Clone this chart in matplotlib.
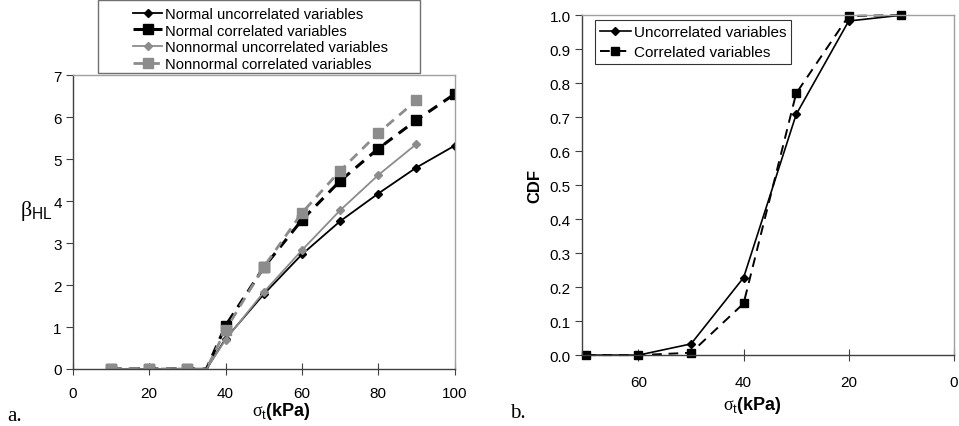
import matplotlib
matplotlib.use("Agg")
import matplotlib.pyplot as plt
from matplotlib.patches import Rectangle
from matplotlib.ticker import FormatStrFormatter

plt.rcParams["font.family"] = ["Liberation Sans", "DejaVu Sans"]
plt.rcParams["mathtext.fontset"] = "custom"
plt.rcParams["mathtext.rm"] = "Liberation Serif"
plt.rcParams["mathtext.sf"] = "Liberation Sans"
plt.rcParams["mathtext.bf"] = "Liberation Sans:bold"

# Panel a: reliability index vs tensile strength
sigma_a = [10, 20, 30, 35, 40, 50, 60, 70, 80, 90, 100]
normal_uncorr = [0, 0, 0, 0, 0.72, 1.78, 2.73, 3.52, 4.18, 4.80, 5.32]
normal_corr = [0, 0, 0, 0, 1.03, 2.42, 3.55, 4.48, 5.25, 5.93, 6.55]
sigma_a_nn = [10, 20, 30, 35, 40, 50, 60, 70, 80, 90]
nonnormal_uncorr = [0, 0, 0, 0, 0.70, 1.83, 2.83, 3.78, 4.62, 5.36]
nonnormal_corr = [0, 0, 0, 0, 0.93, 2.43, 3.72, 4.72, 5.62, 6.40]

# Panel b: CDF
sigma_b = [70, 60, 50, 40, 30, 20, 10]
cdf_uncorr = [0.0, 0.0, 0.033, 0.228, 0.708, 0.983, 1.0]
cdf_corr = [0.0, 0.0, 0.007, 0.152, 0.770, 0.998, 1.0]

gray = "#8c8c8c"
dark = "#404040"
W, H = 959, 427
sig_label = r"$\mathrm{\sigma}_{\mathsf{t}}$(kPa)"

fig = plt.figure(figsize=(9.59, 4.27), dpi=100)
ax1 = fig.add_axes([0.076, 0.1335, 0.398, 0.688])
ax2 = fig.add_axes([0.6066, 0.166, 0.388, 0.796])

# marker on every point except the 35 kPa break point
mk_a = [i for i, s in enumerate(sigma_a) if s != 35]
mk_nn = [i for i, s in enumerate(sigma_a_nn) if s != 35]

ax1.plot(sigma_a, normal_uncorr, color="black", lw=1.3, marker="D", ms=4,
         markevery=mk_a, label="Normal uncorrelated variables")
ax1.plot(sigma_a, normal_corr, color="black", lw=2.2, ls=(0, (3.5, 2.5)), marker="s", ms=6.5,
         markevery=mk_a, label="Normal correlated variables")
ax1.plot(sigma_a_nn, nonnormal_uncorr, color=gray, lw=1.3, marker="D", ms=4,
         markevery=mk_nn, label="Nonnormal uncorrelated variables")
ax1.plot(sigma_a_nn, nonnormal_corr, color=gray, lw=2.0, ls=(0, (3.5, 2.5)), marker="s", ms=6.5,
         markevery=mk_nn, label="Nonnormal correlated variables")

ax1.set_xlim(0, 100)
ax1.set_ylim(0, 7)
ax1.set_xticks(range(0, 101, 20))
ax1.set_yticks(range(0, 8))
ax1.tick_params(axis="x", direction="inout", length=8, pad=8, labelsize=11, color=dark)
ax1.tick_params(axis="y", direction="out", length=5, pad=3, labelsize=11, color=dark)
ax1.set_xlabel(sig_label, fontsize=13, fontweight="bold")
ax1.xaxis.set_label_coords(0.547, -0.105)
ax1.text(-0.052, 0.54, r"$\mathrm{\beta}_{\mathsf{HL}}$", transform=ax1.transAxes,
         fontsize=16, ha="right", va="center")
leg1 = ax1.legend(loc="upper left", bbox_to_anchor=(133 / W, 1 - 8 / H),
                  bbox_transform=fig.transFigure, fontsize=10.6, frameon=False,
                  borderpad=0, labelspacing=0.18, handlelength=2.0,
                  handletextpad=0.2, borderaxespad=0)
fig.add_artist(Rectangle((98 / W, 1 - 74 / H), 322 / W, 73 / H, transform=fig.transFigure,
                         fill=False, edgecolor="#707070", lw=1.0))

ax2.plot(sigma_b, cdf_uncorr, color="black", lw=1.2, marker="D", ms=4, clip_on=False,
         label="Uncorrelated variables")
ax2.plot(sigma_b, cdf_corr, color="black", lw=1.4, ls=(0, (5, 3.5)), marker="s", ms=5.5,
         clip_on=False, label="Correlated variables")
ax2.set_xlim(70.8, 0)
ax2.set_ylim(0, 1.0)
ax2.set_xticks([60, 40, 20, 0])
ax2.set_yticks([i / 10 for i in range(11)])
ax2.yaxis.set_major_formatter(FormatStrFormatter("%.1f"))
ax2.tick_params(axis="x", direction="inout", length=8, pad=10, labelsize=11, color=dark)
ax2.tick_params(axis="y", direction="out", length=5, pad=3, labelsize=11, color=dark)
ax2.set_xlabel(sig_label, fontsize=13, fontweight="bold")
ax2.xaxis.set_label_coords(0.46, -0.115)
ax2.set_ylabel("CDF", fontsize=12, fontweight="bold", labelpad=5)
leg2 = ax2.legend(loc="upper left", bbox_to_anchor=(0.037, 0.985), fontsize=11,
                  frameon=True, fancybox=False, edgecolor="black", borderpad=0.3,
                  labelspacing=0.4, handlelength=2.0, handletextpad=0.2,
                  borderaxespad=0)
leg2.get_frame().set_linewidth(0.8)

for ax in (ax1, ax2):
    ax.spines["left"].set_color(dark)
    ax.spines["bottom"].set_color(dark)
    ax.spines["top"].set_color("#a0a0a0")
    ax.spines["right"].set_color("#a0a0a0")
    for s in ax.spines.values():
        s.set_linewidth(1.0)

fig.text(0.008, 0.015, "a.", fontsize=15, family="Liberation Serif")
fig.text(0.532, 0.02, "b.", fontsize=15, family="Liberation Serif")

fig.savefig("out.png", dpi=100)
